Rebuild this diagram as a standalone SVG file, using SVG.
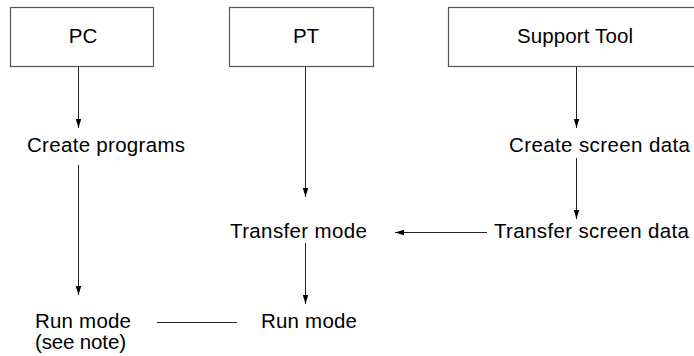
<svg xmlns="http://www.w3.org/2000/svg" width="694" height="356" viewBox="0 0 694 356">
<defs>
<style>
.box{fill:#fff;stroke:#555;stroke-width:1.2}
.t{font-family:"Liberation Sans",Arial,sans-serif;font-size:20.5px;fill:#000}
.c{stroke:#222;stroke-width:1;fill:none}
</style>
<marker id="ah" viewBox="0 0 10 10" refX="10" refY="5" markerWidth="9" markerHeight="9" markerUnits="userSpaceOnUse" orient="auto">
<path d="M0,2 L10,5 L0,8 Z" fill="#000"/>
</marker>
</defs>
<rect width="694" height="356" fill="#fff"/>
<g id="pc"><rect class="box" x="10.5" y="7.5" width="143" height="59"/><text class="t" x="83" y="43" text-anchor="middle">PC</text></g>
<g id="pt"><rect class="box" x="229.5" y="7.5" width="144" height="59"/><text class="t" x="306" y="43" text-anchor="middle">PT</text></g>
<g id="support-tool"><rect class="box" x="448.5" y="7.5" width="248" height="59"/><text class="t" x="517" y="43" textLength="116">Support Tool</text></g>
<g id="create-programs"><text class="t" x="27" y="152" textLength="158">Create programs</text></g>
<g id="create-screen-data"><text class="t" x="509" y="152" textLength="181">Create screen data</text></g>
<g id="transfer-mode"><text class="t" x="230" y="238" textLength="137">Transfer mode</text></g>
<g id="transfer-screen-data"><text class="t" x="494" y="238" textLength="195">Transfer screen data</text></g>
<g id="run-mode-pc"><text class="t" x="35" y="328" textLength="96">Run mode</text><text class="t" x="35" y="349" textLength="91">(see note)</text></g>
<g id="run-mode-pt"><text class="t" x="261" y="328" textLength="96">Run mode</text></g>
<g id="connectors">
<line class="c" x1="78.5" y1="67" x2="78.5" y2="128" marker-end="url(#ah)"/>
<line class="c" x1="78.5" y1="165" x2="78.5" y2="295" marker-end="url(#ah)"/>
<line class="c" x1="305.5" y1="67" x2="305.5" y2="197" marker-end="url(#ah)"/>
<line class="c" x1="305.5" y1="243" x2="305.5" y2="304" marker-end="url(#ah)"/>
<line class="c" x1="576.5" y1="67" x2="576.5" y2="128" marker-end="url(#ah)"/>
<line class="c" x1="576.5" y1="158" x2="576.5" y2="219" marker-end="url(#ah)"/>
<line class="c" x1="487" y1="232.5" x2="395" y2="232.5" marker-end="url(#ah)"/>
<line class="c" x1="157" y1="322.5" x2="237" y2="322.5" stroke="#555"/>
</g>
</svg>
